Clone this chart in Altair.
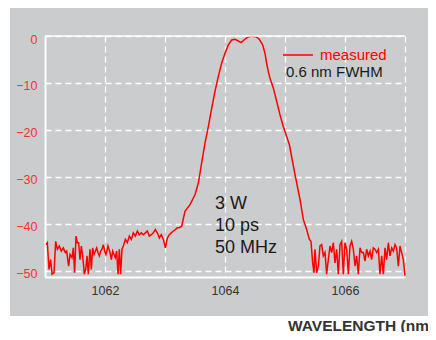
import altair as alt
import pandas as pd

# measured spectrum (wavelength in nm, relative power in dB)
wavelength = [
    1061.017, 1061.039, 1061.067, 1061.094, 1061.117, 1061.150, 1061.178, 1061.206, 1061.239, 1061.272,
    1061.306, 1061.339, 1061.361, 1061.394, 1061.417, 1061.450, 1061.472, 1061.494, 1061.517, 1061.539,
    1061.561, 1061.583, 1061.606, 1061.628, 1061.656, 1061.678, 1061.700, 1061.722, 1061.750, 1061.772,
    1061.794, 1061.817, 1061.839, 1061.861, 1061.883, 1061.906, 1061.928, 1061.950, 1061.972, 1061.994,
    1062.017, 1062.050, 1062.083, 1062.106, 1062.128, 1062.150, 1062.172, 1062.194, 1062.217, 1062.239,
    1062.261, 1062.283, 1062.306, 1062.339, 1062.372, 1062.406, 1062.439, 1062.472, 1062.506, 1062.539,
    1062.572, 1062.606, 1062.639, 1062.672, 1062.706, 1062.739, 1062.772, 1062.806, 1062.839, 1062.872,
    1062.906, 1062.939, 1062.972, 1063.006, 1063.039, 1063.072, 1063.106, 1063.139, 1063.172, 1063.206,
    1063.239, 1063.278, 1063.333, 1063.417, 1063.500, 1063.556, 1063.611, 1063.667, 1063.722, 1063.778,
    1063.833, 1063.889, 1063.944, 1064.000, 1064.056, 1064.111, 1064.167, 1064.222, 1064.267, 1064.317,
    1064.372, 1064.444, 1064.517, 1064.572, 1064.628, 1064.667, 1064.694, 1064.722, 1064.750, 1064.806,
    1064.861, 1064.917, 1064.972, 1065.028, 1065.072, 1065.167, 1065.250, 1065.306, 1065.361, 1065.406,
    1065.433, 1065.461, 1065.483, 1065.500, 1065.528, 1065.556, 1065.583, 1065.611, 1065.639, 1065.667,
    1065.694, 1065.722, 1065.750, 1065.778, 1065.806, 1065.833, 1065.861, 1065.889, 1065.917, 1065.944,
    1065.972, 1066.000, 1066.028, 1066.056, 1066.083, 1066.111, 1066.139, 1066.167, 1066.194, 1066.222,
    1066.250, 1066.278, 1066.306, 1066.333, 1066.361, 1066.389, 1066.417, 1066.444, 1066.472, 1066.500,
    1066.528, 1066.556, 1066.583, 1066.611, 1066.639, 1066.667, 1066.694, 1066.722, 1066.750, 1066.778,
    1066.806, 1066.833, 1066.861, 1066.889, 1066.917, 1066.944, 1066.972, 1067.000,
]
power_db = [
    -44.4, -44.0, -49.7, -47.6, -50.7, -50.4, -43.7, -45.4, -44.7, -45.8,
    -45.1, -46.1, -45.8, -49.0, -46.5, -47.2, -45.1, -50.4, -42.6, -44.0,
    -44.0, -47.6, -44.7, -46.8, -50.7, -49.7, -46.8, -50.7, -45.4, -49.7,
    -45.1, -46.5, -45.8, -45.1, -46.1, -46.8, -45.8, -45.4, -44.4, -45.8,
    -46.5, -44.7, -46.1, -47.6, -45.8, -46.5, -47.2, -45.8, -50.7, -45.4,
    -50.7, -45.4, -44.7, -43.3, -44.0, -42.6, -43.3, -41.9, -42.6, -41.5,
    -42.3, -41.9, -42.3, -41.9, -41.5, -42.6, -42.3, -41.9, -41.2, -41.9,
    -43.0, -42.3, -43.3, -45.1, -43.0, -42.3, -41.9, -41.5, -41.2, -40.8,
    -40.8, -40.5, -37.3, -35.9, -33.8, -31.3, -27.0, -22.8, -19.3, -15.4,
    -11.8, -8.6, -5.8, -3.7, -1.9, -0.85, -0.7, -1.06, -1.4, -0.85,
    -0.28, 0.0, -0.14, -0.7, -1.9, -3.7, -5.8, -7.6, -9.0, -11.1,
    -13.9, -16.8, -19.3, -21.4, -23.1, -29.5, -34.8, -39.1, -41.2, -43.3,
    -43.7, -48.3, -50.4, -45.4, -50.4, -49.0, -44.7, -44.4, -46.8, -46.1,
    -50.7, -47.6, -44.7, -46.1, -44.0, -48.3, -45.4, -50.7, -44.4, -43.7,
    -50.7, -44.0, -45.4, -50.7, -44.7, -43.7, -45.4, -49.0, -46.8, -50.7,
    -45.1, -46.1, -46.1, -47.9, -45.4, -46.8, -45.8, -47.6, -45.1, -45.4,
    -46.1, -45.4, -50.7, -46.8, -50.7, -45.1, -47.6, -44.0, -46.8, -45.1,
    -45.8, -44.4, -45.1, -49.0, -44.7, -46.1, -47.6, -51.0,
]

x_ticks = [1062, 1063, 1064, 1065, 1066, 1067]
y_ticks = [-50, -40, -30, -20, -10, 0]

note_lines = ["3 W", "10 ps", "50 MHz"]
note_x = [1063.833, 1063.833, 1063.833]
note_y = [-36.9, -41.5, -46.1]

legend_label = "measured"
legend_note = "0.6 nm FWHM"
x_title = "WAVELENGTH (nm)"

RED = "#ff0000"
LABEL_RED = "#f03434"
GREY = "#cbcccd"
FONT = "Liberation Sans"

spec = pd.DataFrame({"wavelength": wavelength, "power": power_db})
notes = pd.DataFrame({"wavelength": note_x, "power": note_y, "text": note_lines})
one = pd.DataFrame({"a": [0]})

xscale = alt.Scale(domain=[1061, 1067], nice=False, zero=False)
yscale = alt.Scale(domain=[-51.3, 0], nice=False, zero=False)

xaxis = alt.Axis(
    values=x_ticks, format="d",
    labelExpr="datum.value % 2 == 0 ? datum.label : ''",
    title=None, ticks=False, domainColor="white", domainWidth=2,
    grid=True, gridColor="white", gridDash=[6, 4], gridWidth=1.3, gridOpacity=1,
    labelColor="#333333", labelFontSize=12.5, labelFont=FONT, labelPadding=7,
    labelOverlap=False,
)
yaxis = alt.Axis(
    values=y_ticks, format="d", title=None, ticks=False,
    domainColor="white", domainWidth=2,
    grid=True, gridColor="white", gridDash=[6, 4], gridWidth=1.3, gridOpacity=1,
    labelColor=LABEL_RED, labelFontSize=12.5, labelFont=FONT, labelPadding=8,
    labelOffset=3,
)

X = alt.X("wavelength:Q", scale=xscale, axis=xaxis)
Y = alt.Y("power:Q", scale=yscale, axis=yaxis)

# white strips outside the grey panel
white_bottom = alt.Chart(one).mark_rect(color="white").encode(
    x=alt.value(-40), x2=alt.value(390), y=alt.value(280), y2=alt.value(300)
)
white_left = alt.Chart(one).mark_rect(color="white").encode(
    x=alt.value(-40), x2=alt.value(-35), y=alt.value(-30), y2=alt.value(300)
)

top_rule = alt.Chart(one).mark_rule(color="white", strokeWidth=1.6).encode(
    x=alt.value(0), x2=alt.value(360), y=alt.value(0)
)

line = alt.Chart(spec).mark_line(color=RED, strokeWidth=1.5).encode(x=X, y=Y)

note_text = alt.Chart(notes).mark_text(
    align="left", baseline="alphabetic", fontSize=18, font=FONT, color="#1a1a1a"
).encode(x=X, y=Y, text="text:N")

leg_line = alt.Chart(one).mark_rule(color=RED, strokeWidth=1.5).encode(
    x=alt.value(238), x2=alt.value(268), y=alt.value(19)
)
leg_text = alt.Chart(one).mark_text(
    align="left", baseline="alphabetic", fontSize=15, font=FONT, color=RED, text=legend_label
).encode(x=alt.value(275), y=alt.value(24))
leg_note = alt.Chart(one).mark_text(
    align="left", baseline="alphabetic", fontSize=15, font=FONT, color="#1a1a1a", text=legend_note
).encode(x=alt.value(241), y=alt.value(41))

title_text = alt.Chart(one).mark_text(
    align="left", baseline="alphabetic", fontSize=15.5, font=FONT, fontWeight="bold",
    color="#333333", text=x_title
).encode(x=alt.value(243), y=alt.value(295))

chart = alt.layer(
    white_bottom, white_left, line, top_rule, note_text, leg_line, leg_text, leg_note, title_text
).properties(
    width=360, height=241,
    autosize=alt.AutoSizeParams(type="none"),
    padding={"left": 37, "top": 28, "right": 23, "bottom": 55},
    background=GREY,
).configure_view(stroke=None, fill=None)

chart.save("out.html", embed_options={"renderer": "svg", "actions": False})
